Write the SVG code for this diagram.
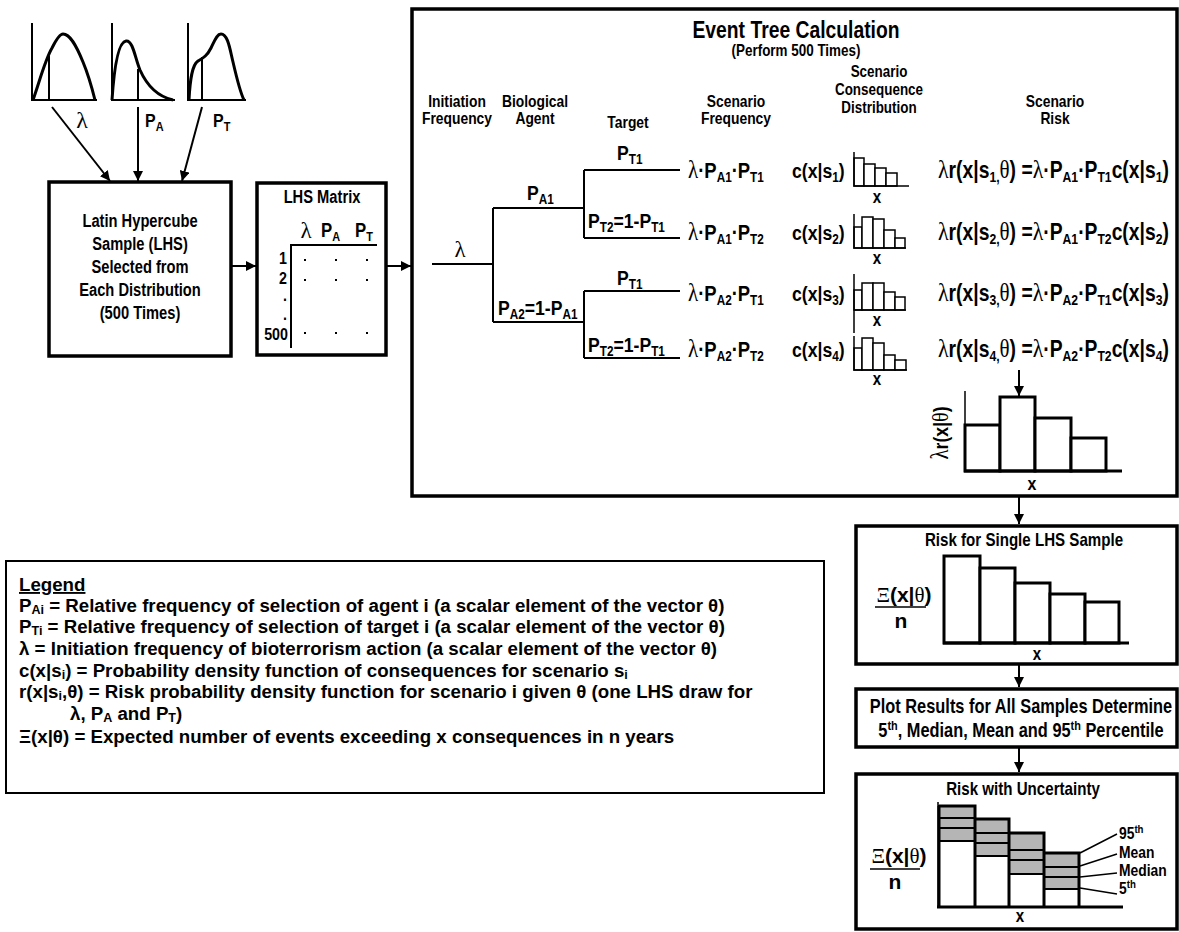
<svg xmlns="http://www.w3.org/2000/svg" width="1179" height="932" viewBox="0 0 1179 932">
<defs>
<marker id="ah" viewBox="0 0 10 10" refX="10" refY="5" markerWidth="10" markerHeight="10" markerUnits="userSpaceOnUse" orient="auto"><path d="M0,0 L10,5 L0,10 z" fill="#000"/></marker>
<style>
text{font-family:"Liberation Sans",Arial,sans-serif;font-weight:bold;fill:#000}
.g{font-family:"Liberation Serif","DejaVu Serif",serif;font-weight:normal}
.box{fill:#fff;stroke:#000;stroke-width:3.5}
.ln{stroke:#000;stroke-width:2;fill:none}
.thin{stroke:#000;stroke-width:1.5;fill:none}
.hb{fill:#fff;stroke:#000;stroke-width:1.5}
.bb{fill:#fff;stroke:#000;stroke-width:3}
.gr{fill:#b5b5b5;stroke:#000;stroke-width:2}
.c{text-anchor:middle}
.arr{stroke:#000;stroke-width:2;fill:none;marker-end:url(#ah)}
.cv{stroke:#000;stroke-width:3;fill:none;stroke-linejoin:round}
</style>
</defs>
<rect width="1179" height="932" fill="#fff"/>

<g id="dist-lambda">
<path class="ln" d="M32,23 V100 H97"/>
<path class="cv" d="M33,100 C40,80 45,60 52,48 C57,38 60,34 63,34 C70,34 76,45 83,62 C88,74 92,88 95,100"/>
<line class="ln" x1="49" y1="100" x2="49" y2="56"/>
<text class="g" x="82" y="128" font-size="24" text-anchor="middle">λ</text>
</g>
<g id="dist-pa">
<path class="ln" d="M112,23 V100 H175"/>
<path class="cv" d="M112,100 C114,70 118,42 126,41 C133,40 135,58 140,70 C148,88 160,97 173,100"/>
<line class="ln" x1="138" y1="100" x2="138" y2="69"/>
<text transform="translate(145,127) scale(.84,1)" font-size="19">P<tspan font-size="13" dy="4">A</tspan></text>
</g>
<g id="dist-pt">
<path class="ln" d="M188,23 V100 H246"/>
<path class="cv" d="M189,100 C190,80 192,65 198,61 C203,58 207,56 211,48 C215,40 217,34 221,34 C228,34 230,50 233,62 C236,75 240,92 244,100"/>
<line class="ln" x1="202" y1="100" x2="202" y2="57"/>
<text transform="translate(213,127) scale(.84,1)" font-size="19">P<tspan font-size="13" dy="4">T</tspan></text>
</g>

<g id="connectors">
<line class="arr" x1="52" y1="107" x2="110" y2="181"/>
<line class="arr" x1="138" y1="107" x2="138" y2="181"/>
<line class="arr" x1="202" y1="107" x2="182" y2="181"/>
<line class="arr" x1="231" y1="266" x2="256" y2="266"/>
<line class="arr" x1="386" y1="266" x2="411" y2="266"/>
<line class="arr" x1="1019" y1="497" x2="1019" y2="524"/>
<line class="arr" x1="1019" y1="665" x2="1019" y2="687"/>
<line class="arr" x1="1019" y1="748" x2="1019" y2="772"/>
</g>

<g id="lhs-sample">
<rect class="box" x="49" y="182" width="182" height="174"/>
<text class="c" transform="translate(140,227) scale(.84,1)" font-size="17.5">Latin Hypercube</text>
<text class="c" transform="translate(140,250) scale(.84,1)" font-size="17.5">Sample (LHS)</text>
<text class="c" transform="translate(140,273) scale(.84,1)" font-size="17.5">Selected from</text>
<text class="c" transform="translate(140,296) scale(.84,1)" font-size="17.5">Each Distribution</text>
<text class="c" transform="translate(140,319) scale(.84,1)" font-size="17.5">(500 Times)</text>
</g>

<g id="lhs-matrix">
<rect class="box" x="257" y="183" width="129" height="172"/>
<text class="c" transform="translate(322,203) scale(.84,1)" font-size="17.5">LHS Matrix</text>
<text class="g c" x="306" y="238" font-size="23">λ</text>
<text transform="translate(321,237) scale(.84,1)" font-size="20">P<tspan font-size="13" dy="4">A</tspan></text>
<text transform="translate(355,237) scale(.84,1)" font-size="20">P<tspan font-size="13" dy="4">T</tspan></text>
<path class="ln" d="M377,245 H291 V348"/>
<text transform="translate(287,264) scale(.84,1)" font-size="17" text-anchor="end">1</text>
<text transform="translate(287,284) scale(.84,1)" font-size="17" text-anchor="end">2</text>
<text transform="translate(287,301) scale(.84,1)" font-size="17" text-anchor="end">.</text>
<text transform="translate(287,320) scale(.84,1)" font-size="17" text-anchor="end">.</text>
<text transform="translate(288,340) scale(.84,1)" font-size="17" text-anchor="end">500</text>
<g fill="#000">
<rect x="304" y="259" width="2" height="2"/><rect x="335" y="259" width="2" height="2"/><rect x="366" y="259" width="2" height="2"/>
<rect x="304" y="279" width="2" height="2"/><rect x="335" y="279" width="2" height="2"/><rect x="366" y="279" width="2" height="2"/>
<rect x="304" y="332" width="2" height="2"/><rect x="335" y="332" width="2" height="2"/><rect x="366" y="332" width="2" height="2"/>
</g>
</g>

<g id="event-tree">
<rect class="box" x="412" y="9" width="765" height="487"/>
<text class="c" transform="translate(796,38) scale(.84,1)" font-size="23">Event Tree Calculation</text>
<text class="c" transform="translate(796,56) scale(.84,1)" font-size="16">(Perform 500 Times)</text>
<text class="c" transform="translate(457,107) scale(.84,1)" font-size="16.5">Initiation</text>
<text class="c" transform="translate(457,124) scale(.84,1)" font-size="16.5">Frequency</text>
<text class="c" transform="translate(535,107) scale(.84,1)" font-size="16.5">Biological</text>
<text class="c" transform="translate(535,124) scale(.84,1)" font-size="16.5">Agent</text>
<text class="c" transform="translate(628,128) scale(.84,1)" font-size="16.5">Target</text>
<text class="c" transform="translate(736,107) scale(.84,1)" font-size="16.5">Scenario</text>
<text class="c" transform="translate(736,124) scale(.84,1)" font-size="16.5">Frequency</text>
<text class="c" transform="translate(879,77) scale(.84,1)" font-size="16">Scenario</text>
<text class="c" transform="translate(879,95) scale(.84,1)" font-size="16">Consequence</text>
<text class="c" transform="translate(879,113) scale(.84,1)" font-size="16">Distribution</text>
<text class="c" transform="translate(1055,107) scale(.84,1)" font-size="16.5">Scenario</text>
<text class="c" transform="translate(1055,124) scale(.84,1)" font-size="16.5">Risk</text>

<path class="ln" d="M432,264 H493 M493,208 V322 M493,208 H584 M493,322 H584 M584,170 V238 M584,170 H680 M584,238 H680 M584,291 V358 M584,291 H680 M584,358 H680"/>
<text class="g c" x="460" y="257" font-size="23">λ</text>
<text transform="translate(527,200) scale(.84,1)" font-size="21">P<tspan font-size="14" dy="4">A1</tspan></text>
<text transform="translate(498,315) scale(.84,1)" font-size="21">P<tspan font-size="14" dy="4">A2</tspan><tspan dy="-4">=1-P</tspan><tspan font-size="14" dy="4">A1</tspan></text>
<text transform="translate(617,160) scale(.84,1)" font-size="21">P<tspan font-size="14" dy="4">T1</tspan></text>
<text transform="translate(588,228) scale(.84,1)" font-size="21">P<tspan font-size="14" dy="4">T2</tspan><tspan dy="-4">=1-P</tspan><tspan font-size="14" dy="4">T1</tspan></text>
<text transform="translate(617,285) scale(.84,1)" font-size="21">P<tspan font-size="14" dy="4">T1</tspan></text>
<text transform="translate(588,352) scale(.84,1)" font-size="21">P<tspan font-size="14" dy="4">T2</tspan><tspan dy="-4">=1-P</tspan><tspan font-size="14" dy="4">T1</tspan></text>

<text transform="translate(688,178) scale(.84,1)" font-size="22"><tspan class="g" font-size="25">λ</tspan>·P<tspan font-size="14" dy="4">A1</tspan><tspan dy="-4">·P</tspan><tspan font-size="14" dy="4">T1</tspan></text>
<text transform="translate(688,240) scale(.84,1)" font-size="22"><tspan class="g" font-size="25">λ</tspan>·P<tspan font-size="14" dy="4">A1</tspan><tspan dy="-4">·P</tspan><tspan font-size="14" dy="4">T2</tspan></text>
<text transform="translate(688,301) scale(.84,1)" font-size="22"><tspan class="g" font-size="25">λ</tspan>·P<tspan font-size="14" dy="4">A2</tspan><tspan dy="-4">·P</tspan><tspan font-size="14" dy="4">T1</tspan></text>
<text transform="translate(688,357) scale(.84,1)" font-size="22"><tspan class="g" font-size="25">λ</tspan>·P<tspan font-size="14" dy="4">A2</tspan><tspan dy="-4">·P</tspan><tspan font-size="14" dy="4">T2</tspan></text>

<text transform="translate(792,178) scale(.84,1)" font-size="21">c(x|s<tspan font-size="14" dy="4">1</tspan><tspan dy="-4">)</tspan></text>
<text transform="translate(792,240) scale(.84,1)" font-size="21">c(x|s<tspan font-size="14" dy="4">2</tspan><tspan dy="-4">)</tspan></text>
<text transform="translate(792,301) scale(.84,1)" font-size="21">c(x|s<tspan font-size="14" dy="4">3</tspan><tspan dy="-4">)</tspan></text>
<text transform="translate(792,357) scale(.84,1)" font-size="21">c(x|s<tspan font-size="14" dy="4">4</tspan><tspan dy="-4">)</tspan></text>

<g>
<rect class="hb" x="854" y="158" width="10" height="28"/><rect class="hb" x="864" y="164" width="11" height="22"/><rect class="hb" x="875" y="168" width="11" height="18"/><rect class="hb" x="886" y="173" width="11" height="13"/>
<path class="thin" d="M854,152 V186 H909"/>
<text class="c" transform="translate(877,203) scale(.84,1)" font-size="18">x</text>
</g>
<g>
<rect class="hb" x="854" y="227" width="8" height="21"/><rect class="hb" x="862" y="217" width="11" height="31"/><rect class="hb" x="873" y="219" width="11" height="29"/><rect class="hb" x="884" y="230" width="11" height="18"/><rect class="hb" x="895" y="238" width="10" height="10"/>
<path class="thin" d="M854,214 V248 H906"/>
<text class="c" transform="translate(877,264) scale(.84,1)" font-size="18">x</text>
</g>
<g>
<rect class="hb" x="854" y="290" width="8" height="20"/><rect class="hb" x="862" y="283" width="11" height="27"/><rect class="hb" x="873" y="283" width="11" height="27"/><rect class="hb" x="884" y="292" width="11" height="18"/><rect class="hb" x="895" y="297" width="10" height="13"/>
<path class="thin" d="M854,274 V333 M854,310 H906"/>
<text class="c" transform="translate(877,326) scale(.84,1)" font-size="18">x</text>
</g>
<g>
<rect class="hb" x="854" y="348" width="8" height="22"/><rect class="hb" x="862" y="338" width="11" height="32"/><rect class="hb" x="873" y="343" width="11" height="27"/><rect class="hb" x="884" y="355" width="11" height="15"/><rect class="hb" x="895" y="360" width="11" height="10"/>
<path class="thin" d="M854,336 V370 H907"/>
<text class="c" transform="translate(877,385) scale(.84,1)" font-size="18">x</text>
</g>

<text transform="translate(938,178) scale(.84,1)" font-size="23"><tspan class="g" font-size="26">λ</tspan>r(x|s<tspan font-size="14.5" dy="4">1,</tspan><tspan class="g" dy="-4" font-size="25">θ</tspan>) =<tspan class="g" font-size="26">λ</tspan>·P<tspan font-size="14.5" dy="4">A1</tspan><tspan dy="-4">·P</tspan><tspan font-size="14.5" dy="4">T1</tspan><tspan dy="-4">c(x|s</tspan><tspan font-size="14.5" dy="4">1</tspan><tspan dy="-4">)</tspan></text>
<text transform="translate(938,240) scale(.84,1)" font-size="23"><tspan class="g" font-size="26">λ</tspan>r(x|s<tspan font-size="14.5" dy="4">2,</tspan><tspan class="g" dy="-4" font-size="25">θ</tspan>) =<tspan class="g" font-size="26">λ</tspan>·P<tspan font-size="14.5" dy="4">A1</tspan><tspan dy="-4">·P</tspan><tspan font-size="14.5" dy="4">T2</tspan><tspan dy="-4">c(x|s</tspan><tspan font-size="14.5" dy="4">2</tspan><tspan dy="-4">)</tspan></text>
<text transform="translate(938,301) scale(.84,1)" font-size="23"><tspan class="g" font-size="26">λ</tspan>r(x|s<tspan font-size="14.5" dy="4">3,</tspan><tspan class="g" dy="-4" font-size="25">θ</tspan>) =<tspan class="g" font-size="26">λ</tspan>·P<tspan font-size="14.5" dy="4">A2</tspan><tspan dy="-4">·P</tspan><tspan font-size="14.5" dy="4">T1</tspan><tspan dy="-4">c(x|s</tspan><tspan font-size="14.5" dy="4">3</tspan><tspan dy="-4">)</tspan></text>
<text transform="translate(938,357) scale(.84,1)" font-size="23"><tspan class="g" font-size="26">λ</tspan>r(x|s<tspan font-size="14.5" dy="4">4,</tspan><tspan class="g" dy="-4" font-size="25">θ</tspan>) =<tspan class="g" font-size="26">λ</tspan>·P<tspan font-size="14.5" dy="4">A2</tspan><tspan dy="-4">·P</tspan><tspan font-size="14.5" dy="4">T2</tspan><tspan dy="-4">c(x|s</tspan><tspan font-size="14.5" dy="4">4</tspan><tspan dy="-4">)</tspan></text>

<line class="arr" x1="1019" y1="370" x2="1019" y2="396"/>
<rect class="bb" x="965" y="425" width="35" height="46"/>
<rect class="bb" x="1000" y="397" width="35" height="74"/>
<rect class="bb" x="1035" y="418" width="36" height="53"/>
<rect class="bb" x="1071" y="438" width="35" height="33"/>
<path class="thin" d="M965,391 V471"/>
<line x1="964" y1="471" x2="1122" y2="471" stroke="#000" stroke-width="3"/>
<text class="c" transform="translate(1032,490) scale(.84,1)" font-size="19">x</text>
<text transform="translate(948,433) rotate(-90) scale(.84,1)" text-anchor="middle" font-size="21"><tspan class="g" font-size="25">λ</tspan>r(x|<tspan class="g" font-size="24">θ</tspan>)</text>
</g>

<g id="risk-single">
<rect class="box" x="856" y="526" width="321" height="138"/>
<text class="c" transform="translate(1024,546) scale(.84,1)" font-size="18">Risk for Single LHS Sample</text>
<rect class="bb" x="944" y="556" width="36" height="87"/>
<rect class="bb" x="980" y="568" width="35" height="75"/>
<rect class="bb" x="1015" y="583" width="35" height="60"/>
<rect class="bb" x="1050" y="594" width="35" height="49"/>
<rect class="bb" x="1085" y="602" width="34" height="41"/>
<line x1="943" y1="643" x2="1129" y2="643" stroke="#000" stroke-width="3"/>
<text class="c" transform="translate(1037,660) scale(.84,1)" font-size="18">x</text>
<text class="c" x="904" y="602" font-size="21"><tspan class="g">Ξ</tspan>(x|<tspan class="g">θ</tspan>)</text>
<line x1="875" y1="607" x2="926" y2="607" stroke="#000" stroke-width="1.5"/>
<text class="c" x="901" y="628" font-size="21">n</text>
</g>

<g id="plot-results">
<rect class="box" x="856" y="689" width="321" height="58"/>
<text class="c" transform="translate(1021,713) scale(.84,1)" font-size="19.5">Plot Results for All Samples Determine</text>
<text class="c" transform="translate(1021,737) scale(.84,1)" font-size="19.5">5<tspan font-size="13" dy="-7">th</tspan><tspan dy="7">, Median, Mean and 95</tspan><tspan font-size="13" dy="-7">th</tspan><tspan dy="7"> Percentile</tspan></text>
</g>

<g id="risk-uncertainty">
<rect class="box" x="856" y="774" width="321" height="155"/>
<text class="c" transform="translate(1023,795) scale(.84,1)" font-size="18">Risk with Uncertainty</text>
<rect class="gr" x="939" y="806" width="36" height="35"/>
<path class="ln" d="M939,818 H975 M939,828 H975"/>
<rect class="gr" x="975" y="819" width="34" height="37"/>
<path class="ln" d="M975,833 H1009 M975,843 H1009"/>
<rect class="gr" x="1009" y="833" width="35" height="41"/>
<path class="ln" d="M1009,850 H1044 M1009,860 H1044"/>
<rect class="gr" x="1044" y="853" width="35" height="36"/>
<path class="ln" d="M1044,867 H1079 M1044,877 H1079"/>
<path d="M939,806 H975 V819 H1009 V833 H1044 V853 H1079 V907 M975,819 V907 M1009,833 V907 M1044,853 V907 M939,806 V907" fill="none" stroke="#000" stroke-width="3"/>
<path class="thin" d="M938,802 V907"/>
<line x1="937" y1="907" x2="1123" y2="907" stroke="#000" stroke-width="3"/>
<path class="thin" d="M1080,853 L1117,834 M1080,866 L1117,854 M1080,877 L1117,873 M1080,888 L1117,894"/>
<text transform="translate(1119,839) scale(.84,1)" font-size="16.5">95<tspan font-size="11.5" dy="-6">th</tspan></text>
<text transform="translate(1119,858) scale(.84,1)" font-size="16.5">Mean</text>
<text transform="translate(1119,876) scale(.84,1)" font-size="16.5">Median</text>
<text transform="translate(1119,894) scale(.84,1)" font-size="16.5">5<tspan font-size="11.5" dy="-6">th</tspan></text>
<text class="c" transform="translate(1020,922) scale(.84,1)" font-size="18">x</text>
<text class="c" x="899" y="863" font-size="21"><tspan class="g">Ξ</tspan>(x|<tspan class="g">θ</tspan>)</text>
<line x1="870" y1="869" x2="920" y2="869" stroke="#000" stroke-width="1.5"/>
<text class="c" x="895" y="889" font-size="21">n</text>
</g>

<g id="legend">
<rect x="6" y="561" width="818" height="232" fill="#fff" stroke="#000" stroke-width="2"/>
<text x="19" y="591" font-size="18.7" text-decoration="underline">Legend</text>
<text x="19" y="612" font-size="18.7">P<tspan font-size="12.5" dy="2">Ai</tspan><tspan dy="-2"> = Relative frequency of selection of agent i (a scalar element of the vector θ)</tspan></text>
<text x="19" y="633" font-size="18.7">P<tspan font-size="12.5" dy="2">Ti</tspan><tspan dy="-2"> = Relative frequency of selection of target i (a scalar element of the vector θ)</tspan></text>
<text x="19" y="655" font-size="18.7">λ = Initiation frequency of bioterrorism action (a scalar element of the vector θ)</text>
<text x="19" y="677" font-size="18.7">c(x|s<tspan font-size="12.5" dy="2">i</tspan><tspan dy="-2">) = Probability density function of consequences for scenario s</tspan><tspan font-size="12.5" dy="2">i</tspan></text>
<text x="19" y="698" font-size="18.7">r(x|s<tspan font-size="12.5" dy="2">i</tspan><tspan dy="-2">,θ) = Risk probability density function for scenario i given θ (one LHS draw for</tspan></text>
<text x="70" y="720" font-size="18.7">λ, P<tspan font-size="12.5" dy="2">A</tspan><tspan dy="-2"> and P</tspan><tspan font-size="12.5" dy="2">T</tspan><tspan dy="-2">)</tspan></text>
<text x="19" y="743" font-size="18.7">Ξ(x|θ) = Expected number of events exceeding x consequences in n years</text>
</g>
</svg>
